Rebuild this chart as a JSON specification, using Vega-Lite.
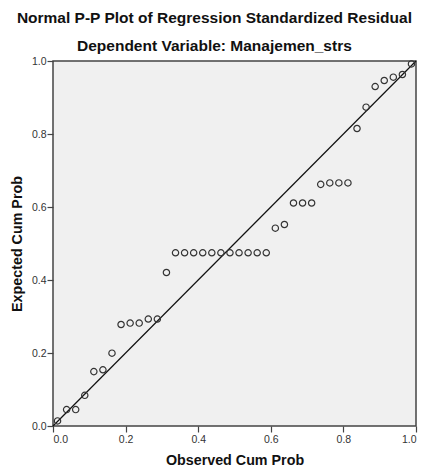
{
  "$schema": "https://vega.github.io/schema/vega-lite/v6.json",
  "autosize": {"type": "none"},
  "width": 363,
  "height": 365,
  "padding": {"left": 53, "top": 61, "right": 7, "bottom": 42},
  "background": "white",
  "config": {
    "font": "Liberation Sans",
    "view": {"fill": "#f0f0f0", "stroke": "#444444", "strokeWidth": 1.5},
    "axis": {
      "grid": false,
      "domain": false,
      "tickColor": "#444444",
      "tickSize": 6,
      "tickWidth": 1.2,
      "labelFontSize": 10.5,
      "labelColor": "#333333",
      "labelFont": "Liberation Sans",
      "titleFont": "Liberation Sans",
      "titleFontSize": 14.3,
      "titleFontWeight": "bold",
      "titleColor": "#111111"
    }
  },
  "title": {
    "text": "Normal P-P Plot of Regression Standardized Residual",
    "subtitle": "Dependent Variable: Manajemen_strs",
    "anchor": "middle",
    "frame": "bounds",
    "font": "Liberation Sans",
    "fontSize": 15.5,
    "fontWeight": "bold",
    "color": "#111111",
    "subtitleFontSize": 15.5,
    "subtitleFontWeight": "bold",
    "subtitleColor": "#111111",
    "subtitleFont": "Liberation Sans",
    "subtitlePadding": 12,
    "offset": 2
  },
  "datasets": {
    "points": [
      {"obs": 0.0125, "exp": 0.014},
      {"obs": 0.0375, "exp": 0.045},
      {"obs": 0.0625, "exp": 0.045},
      {"obs": 0.0875, "exp": 0.084},
      {"obs": 0.1125, "exp": 0.149},
      {"obs": 0.1375, "exp": 0.154},
      {"obs": 0.1625, "exp": 0.1995},
      {"obs": 0.1875, "exp": 0.278},
      {"obs": 0.2125, "exp": 0.282},
      {"obs": 0.2375, "exp": 0.282},
      {"obs": 0.2625, "exp": 0.293},
      {"obs": 0.2875, "exp": 0.293},
      {"obs": 0.3125, "exp": 0.4205},
      {"obs": 0.3375, "exp": 0.4745},
      {"obs": 0.3625, "exp": 0.4745},
      {"obs": 0.3875, "exp": 0.4745},
      {"obs": 0.4125, "exp": 0.4745},
      {"obs": 0.4375, "exp": 0.4745},
      {"obs": 0.4625, "exp": 0.4745},
      {"obs": 0.4875, "exp": 0.4745},
      {"obs": 0.5125, "exp": 0.4745},
      {"obs": 0.5375, "exp": 0.4745},
      {"obs": 0.5625, "exp": 0.4745},
      {"obs": 0.5875, "exp": 0.4745},
      {"obs": 0.6125, "exp": 0.542},
      {"obs": 0.6375, "exp": 0.552},
      {"obs": 0.6625, "exp": 0.611},
      {"obs": 0.6875, "exp": 0.611},
      {"obs": 0.7125, "exp": 0.611},
      {"obs": 0.7375, "exp": 0.662},
      {"obs": 0.7625, "exp": 0.666},
      {"obs": 0.7875, "exp": 0.666},
      {"obs": 0.8125, "exp": 0.666},
      {"obs": 0.8375, "exp": 0.815},
      {"obs": 0.8625, "exp": 0.8735},
      {"obs": 0.8875, "exp": 0.930},
      {"obs": 0.9125, "exp": 0.9466},
      {"obs": 0.9375, "exp": 0.9557},
      {"obs": 0.9625, "exp": 0.963},
      {"obs": 0.9875, "exp": 0.992}
    ],
    "diag": [
      {"obs": 0, "exp": 0},
      {"obs": 1, "exp": 1}
    ]
  },
  "layer": [
    {
      "data": {"name": "diag"},
      "mark": {"type": "line", "color": "#111111", "strokeWidth": 1.2},
      "encoding": {
        "x": {"field": "obs", "type": "quantitative"},
        "y": {"field": "exp", "type": "quantitative"}
      }
    },
    {
      "data": {"name": "points"},
      "mark": {"type": "point", "shape": "circle", "filled": false, "size": 40, "stroke": "#333333", "strokeWidth": 1.2, "opacity": 1},
      "encoding": {
        "x": {
          "field": "obs",
          "type": "quantitative",
          "title": "Observed Cum Prob",
          "scale": {"domain": [0, 1], "nice": false, "zero": false},
          "axis": {"values": [0, 0.2, 0.4, 0.6, 0.8, 1.0], "format": ".1f", "labelPadding": 2, "titlePadding": 9}
        },
        "y": {
          "field": "exp",
          "type": "quantitative",
          "title": "Expected Cum Prob",
          "scale": {"domain": [0, 1], "nice": false, "zero": false},
          "axis": {"values": [0, 0.2, 0.4, 0.6, 0.8, 1.0], "format": ".1f", "labelPadding": 1, "titlePadding": 7}
        }
      }
    }
  ]
}
